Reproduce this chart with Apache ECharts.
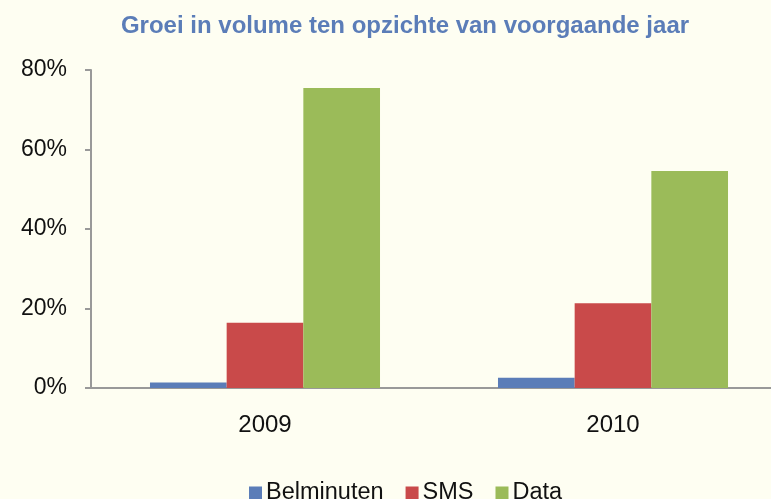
<!DOCTYPE html>
<html>
<head>
<meta charset="UTF-8">
<title>Groei in volume</title>
<script src="https://cdn.jsdelivr.net/npm/echarts@6/dist/echarts.min.js"></script>
<style>
  html, body { margin: 0; padding: 0; background: #FEFEF2; }
  #chart { width: 771px; height: 499px; }
</style>
</head>
<body>
<div id="chart"></div>
<script>
// categories and values (percent growth)
var years = ['2009', '2010'];
var belminuten = [1.4, 2.6];
var sms = [16.4, 21.3];
var dataVol = [75.5, 54.6];
var yTicks = [0, 20, 40, 60, 80];

var chart = echarts.init(document.getElementById('chart'));

var option = {
    backgroundColor: '#FEFEF2',
    textStyle: { fontFamily: 'Liberation Sans, Arial, sans-serif' },
    title: {
        text: 'Groei in volume ten opzichte van voorgaande jaar',
        left: 400,
        textAlign: 'center',
        top: 9,
        textStyle: { color: '#5B7DB8', fontSize: 24, fontWeight: 'bold' }
    },
    legend: {
        top: 476,
        left: 244,
        itemWidth: 13,
        itemHeight: 13,
        itemGap: 22,
        icon: 'rect',
        textStyle: { color: '#111', fontSize: 23.5, padding: [0, 0, 0, -1] },
        data: ['Belminuten', 'SMS', 'Data']
    },
    // plot area runs slightly past the right edge, like the cropped original
    grid: { left: 91, right: -16, top: 70, bottom: 111, outerBoundsMode: 'none' },
    xAxis: {
        type: 'category',
        data: years,
        axisLine: { lineStyle: { color: '#999', width: 2 } },
        axisTick: { show: false },
        axisLabel: { color: '#111', fontSize: 24, margin: 25 }
    },
    yAxis: {
        type: 'value',
        min: yTicks[0],
        max: yTicks[yTicks.length - 1],
        interval: 20,
        splitLine: { show: false },
        axisLine: { show: true, lineStyle: { color: '#999', width: 2 } },
        axisTick: { show: true, length: 6, lineStyle: { color: '#999', width: 2 } },
        axisLabel: { color: '#111', fontSize: 23, margin: 24, formatter: '{value}%' }
    },
    series: [{
        name: 'Belminuten',
        type: 'bar',
        barGap: '0%',
        barCategoryGap: '33.9%',
        itemStyle: { color: '#5B7DB8' },
        data: belminuten
    }, {
        name: 'SMS',
        type: 'bar',
        itemStyle: { color: '#C94A4A' },
        data: sms
    }, {
        name: 'Data',
        type: 'bar',
        itemStyle: { color: '#9BBB59' },
        data: dataVol
    }]
};

chart.setOption(option);
</script>
</body>
</html>
